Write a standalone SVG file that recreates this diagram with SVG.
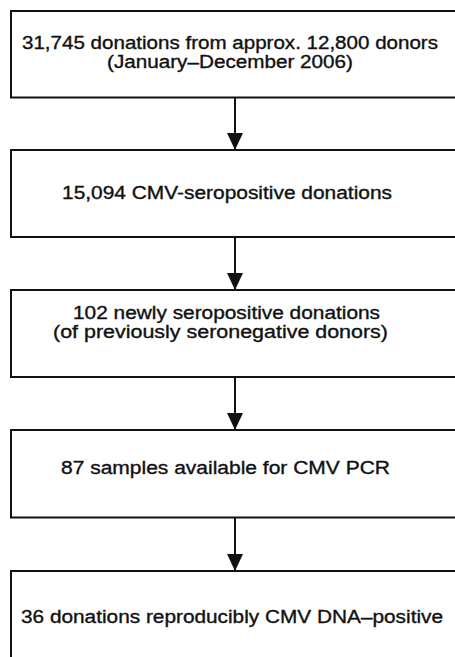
<svg xmlns="http://www.w3.org/2000/svg" width="455" height="657" viewBox="0 0 455 657">
<defs>
<style>
.box{fill:#fff;stroke:#111;stroke-width:2}
.t{font-family:"Liberation Sans",Arial,sans-serif;font-size:18px;fill:#111;stroke:#111;stroke-width:0.35}
.c{stroke:#111;stroke-width:2;fill:none}
</style>
<marker id="ah" markerUnits="userSpaceOnUse" markerWidth="17" markerHeight="16" refX="17" refY="8" orient="auto" viewBox="0 0 17 16">
<path d="M0,0 L17,8 L0,16 Z" fill="#111"/>
</marker>
</defs>
<rect width="455" height="657" fill="#fff"/>
<g id="connectors">
<line class="c" x1="235" y1="98" x2="235" y2="150" marker-end="url(#ah)"/>
<line class="c" x1="235" y1="238" x2="235" y2="290" marker-end="url(#ah)"/>
<line class="c" x1="235" y1="378" x2="235" y2="430" marker-end="url(#ah)"/>
<line class="c" x1="235" y1="518" x2="235" y2="571" marker-end="url(#ah)"/>
</g>
<g id="n1">
<rect class="box" x="11" y="11" width="460" height="86.5"/>
<text class="t" x="22" y="49" textLength="416" lengthAdjust="spacingAndGlyphs">31,745 donations from approx. 12,800 donors</text>
<text class="t" x="107" y="68" textLength="246" lengthAdjust="spacingAndGlyphs">(January–December 2006)</text>
</g>
<g id="n2">
<rect class="box" x="11" y="150" width="460" height="87"/>
<text class="t" x="62" y="199" textLength="330" lengthAdjust="spacingAndGlyphs">15,094 CMV-seropositive donations</text>
</g>
<g id="n3">
<rect class="box" x="11" y="290" width="460" height="87"/>
<text class="t" x="73" y="319" textLength="307" lengthAdjust="spacingAndGlyphs">102 newly seropositive donations</text>
<text class="t" x="53" y="338" textLength="335" lengthAdjust="spacingAndGlyphs">(of previously seronegative donors)</text>
</g>
<g id="n4">
<rect class="box" x="11" y="430" width="460" height="87.5"/>
<text class="t" x="61" y="474" textLength="329" lengthAdjust="spacingAndGlyphs">87 samples available for CMV PCR</text>
</g>
<g id="n5">
<rect class="box" x="11" y="571" width="460" height="100"/>
<text class="t" x="21" y="623" textLength="422" lengthAdjust="spacingAndGlyphs">36 donations reproducibly CMV DNA–positive</text>
</g>
</svg>
